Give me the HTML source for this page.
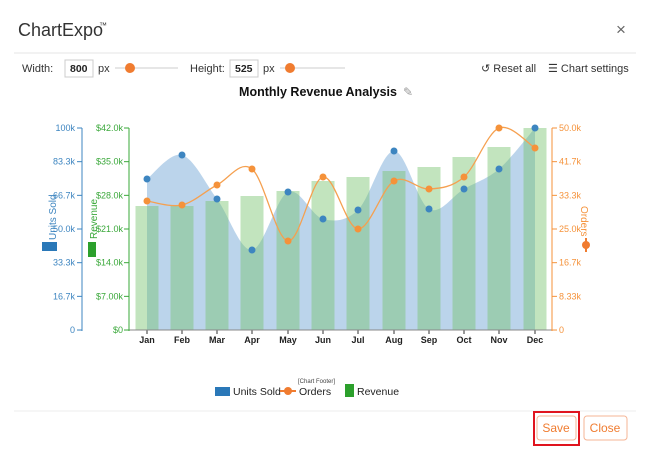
<!DOCTYPE html>
<html><head><meta charset="utf-8"><style>
body{margin:0;background:#fff;width:650px;height:463px;overflow:hidden;font-family:"Liberation Sans",sans-serif}
</style></head><body>
<svg id="s" width="650" height="463" viewBox="0 0 650 463" xmlns="http://www.w3.org/2000/svg" font-family="Liberation Sans, sans-serif">
<rect width="650" height="463" fill="#fff"/>
<text x="18" y="36" font-size="18" fill="#333">ChartExpo</text><text x="99" y="28" font-size="8" fill="#333">™</text>
<text x="616" y="35" font-size="17" fill="#666">×</text>
<line x1="14" y1="53" x2="636" y2="53" stroke="#e6e6e6"/>
<text x="22" y="72" font-size="11" fill="#333">Width:</text>
<rect x="65" y="60" width="28" height="17" fill="#fff" stroke="#ccc"/><text x="70" y="72" font-size="10.5" font-weight="bold" fill="#222">800</text>
<text x="98" y="72" font-size="11" fill="#333">px</text>
<line x1="115" y1="68" x2="178" y2="68" stroke="#ccc"/><circle cx="130" cy="68" r="5" fill="#f07c30"/>
<text x="190" y="72" font-size="11" fill="#333">Height:</text>
<rect x="230" y="60" width="28" height="17" fill="#fff" stroke="#ccc"/><text x="235" y="72" font-size="10.5" font-weight="bold" fill="#222">525</text>
<text x="263" y="72" font-size="11" fill="#333">px</text>
<line x1="280" y1="68" x2="345" y2="68" stroke="#ccc"/><circle cx="290" cy="68" r="5" fill="#f07c30"/>
<text x="481" y="72" font-size="11" fill="#333">↺ Reset all</text>
<text x="548" y="72" font-size="11" fill="#333">☰ Chart settings</text>
<text x="318" y="96" font-size="12.5" font-weight="bold" fill="#111" text-anchor="middle">Monthly Revenue Analysis</text>
<text x="403" y="96" font-size="12" fill="#999">✎</text>
<g id="chart"></g>
<g font-size="10.5" fill="#222">
<rect x="215" y="387" width="15" height="9" fill="#2a78b8"/><text x="233" y="395">Units Sold</text>
<line x1="280" y1="391" x2="296" y2="391" stroke="#f07c30" stroke-width="2"/><circle cx="288" cy="391" r="4" fill="#f07c30"/><text x="299" y="395">Orders</text>
<text x="298" y="383" font-size="6" fill="#444">[Chart Footer]</text>
<rect x="345" y="384" width="9" height="13" fill="#2ca02c"/><text x="357" y="395">Revenue</text>
</g>
<line x1="14" y1="411" x2="636" y2="411" stroke="#eee"/>
<rect x="534" y="412" width="45" height="33" fill="none" stroke="#e0141e" stroke-width="2"/>
<rect x="537" y="416" width="39" height="24" rx="3" fill="#fff" stroke="#f5b595"/><text x="556" y="432" font-size="12" fill="#f07c30" text-anchor="middle">Save</text>
<rect x="584" y="416" width="43" height="24" rx="3" fill="#fff" stroke="#f5b595"/><text x="605" y="432" font-size="12" fill="#f07c30" text-anchor="middle">Close</text>
</svg>
<script>
var g=document.getElementById('chart'),h='';
var xs=[147,182,217,252,288,323,358,394,429,464,499,535],m=['Jan','Feb','Mar','Apr','May','Jun','Jul','Aug','Sep','Oct','Nov','Dec'];
var rev=[206,206,201,196,191,181,177,171,167,157,147,128];
var un=[179,155,199,250,192,219,210,151,209,189,169,128];
var od=[201,205,185,169,241,177,229,181,189,177,128,148];
function sm(y){var p='M'+xs[0]+','+y[0];for(var i=0;i<11;i++){var x0=xs[i-1>=0?i-1:0],y0=y[i-1>=0?i-1:0],x3=xs[i+2<12?i+2:11],y3=y[i+2<12?i+2:11];
var c1x=xs[i]+(xs[i+1]-x0)/6,c1y=y[i]+(y[i+1]-y0)/6,c2x=xs[i+1]-(x3-xs[i])/6,c2y=y[i+1]-(y3-y[i])/6;p+=' C'+c1x+','+c1y+' '+c2x+','+c2y+' '+xs[i+1]+','+y[i+1];}return p;}
h+='<path d="'+sm(un)+' L535,330 L147,330 Z" fill="rgba(120,170,215,0.5)"/>';
for(var i=0;i<12;i++)h+='<rect x="'+(xs[i]-11.5)+'" y="'+rev[i]+'" width="23" height="'+(330-rev[i])+'" fill="rgba(120,195,110,0.45)"/>';
h+='<path d="'+sm(od)+'" fill="none" stroke="#f5a050" stroke-width="1.3"/>';
for(i=0;i<12;i++){h+='<circle cx="'+xs[i]+'" cy="'+un[i]+'" r="3.5" fill="#3d85c0"/><circle cx="'+xs[i]+'" cy="'+od[i]+'" r="3.5" fill="#f5923a"/>';
h+='<line x1="'+xs[i]+'" y1="330" x2="'+xs[i]+'" y2="334" stroke="#333"/><text x="'+xs[i]+'" y="343" font-size="9" font-weight="bold" fill="#222" text-anchor="middle">'+m[i]+'</text>';}
h+='<line x1="127" y1="330" x2="552" y2="330" stroke="#888"/>';
var ul=['100k','83.3k','66.7k','50.0k','33.3k','16.7k','0'],rl=['$42.0k','$35.0k','$28.0k','$21.0k','$14.0k','$7.00k','$0'],ol=['50.0k','41.7k','33.3k','25.0k','16.7k','8.33k','0'];
h+='<line x1="82" y1="128" x2="82" y2="331" stroke="#3d85c0"/><line x1="129" y1="128" x2="129" y2="331" stroke="#3aa83a"/><line x1="552" y1="128" x2="552" y2="331" stroke="#f5923a"/>';
for(i=0;i<7;i++){var y=128+i*33.67;
h+='<line x1="77" y1="'+y+'" x2="82" y2="'+y+'" stroke="#3d85c0"/><text x="75" y="'+(y+3)+'" font-size="9" fill="#3d85c0" text-anchor="end">'+ul[i]+'</text>';
h+='<line x1="124" y1="'+y+'" x2="129" y2="'+y+'" stroke="#3aa83a"/><text x="123" y="'+(y+3)+'" font-size="9" fill="#3aa83a" text-anchor="end">'+rl[i]+'</text>';
h+='<line x1="552" y1="'+y+'" x2="557" y2="'+y+'" stroke="#f5923a"/><text x="559" y="'+(y+3)+'" font-size="9" fill="#f5923a">'+ol[i]+'</text>';}
h+='<text transform="translate(56,240) rotate(-90)" font-size="10" fill="#3d85c0">Units Sold</text><rect x="42" y="242" width="15" height="9" fill="#2a78b8"/>';
h+='<text transform="translate(97,239) rotate(-90)" font-size="10" fill="#3aa83a">Revenue</text><rect x="88" y="242" width="8" height="15" fill="#2ca02c"/>';
h+='<text transform="translate(581,206) rotate(90)" font-size="10" fill="#f5923a">Orders</text><circle cx="586" cy="245" r="4" fill="#f07c30"/><line x1="586" y1="238" x2="586" y2="252" stroke="#f07c30" stroke-width="2"/>';
g.innerHTML=h;
</script>
</body></html>
